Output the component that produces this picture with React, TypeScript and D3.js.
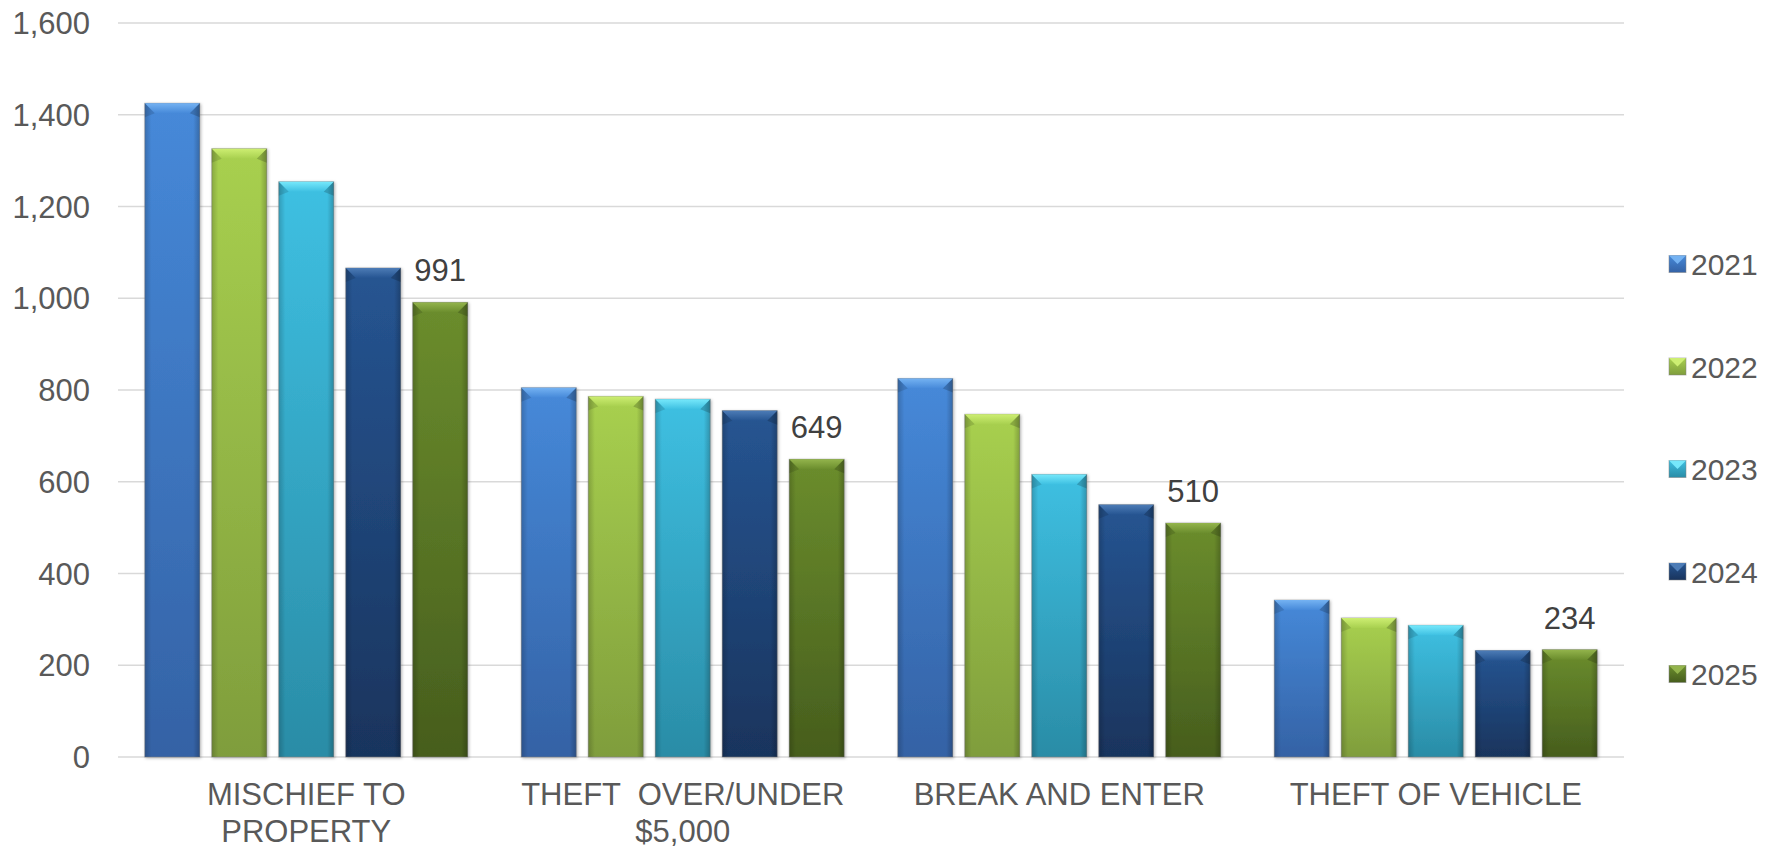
import React from "react";
import * as d3 from "d3";

const categories = ["MISCHIEF TO|PROPERTY", "THEFT  OVER/UNDER|$5,000", "BREAK AND ENTER", "THEFT OF VEHICLE"];
const years = ["2021", "2022", "2023", "2024", "2025"];
const v2021 = [1425, 805, 825, 342];
const v2022 = [1326, 786, 747, 303];
const v2023 = [1254, 780, 616, 287];
const v2024 = [1066, 755, 550, 232];
const v2025 = [991, 649, 510, 234];
const seriesValues = [v2021, v2022, v2023, v2024, v2025];
const yTicks = [0, 200, 400, 600, 800, 1000, 1200, 1400, 1600];

const palette = [
  { top: "#4689d9", bot: "#3462a5", bev: "#74b2f2" },
  { top: "#a8d04f", bot: "#7f9d3c", bev: "#cdee72" },
  { top: "#3ec0e2", bot: "#2a8ca6", bev: "#76e8fb" },
  { top: "#265592", bot: "#19345d", bev: "#4d7cb6" },
  { top: "#6b8d2d", bot: "#465d1d", bev: "#93b44c" },
];

const W = 1783, H = 848;
const font = "'Liberation Sans', Arial, sans-serif";

export default function App() {
  const x0 = d3.scaleBand<string>().domain(categories).range([118, 1624]);
  const x1 = d3.scaleBand<string>().domain(years).range([0, x0.bandwidth()]).paddingInner(0.179).paddingOuter(0.4);
  const y = d3.scaleLinear().domain([0, 1600]).range([757, 23]);
  const bw = x1.bandwidth();
  const bev = 10;

  return (
    <svg width={W} height={H} style={{ position: "absolute", left: 0, top: 0, background: "#fff" }}>
      <defs>
        {palette.map((p, i) => (
          <React.Fragment key={i}>
            <linearGradient id={`body${i}`} x1="0" y1="0" x2="0" y2="1">
              <stop offset="0" stopColor={p.top} />
              <stop offset="1" stopColor={p.bot} />
            </linearGradient>
            <linearGradient id={`bev${i}`} x1="0" y1="0" x2="0" y2="1">
              <stop offset="0" stopColor={p.bev} />
              <stop offset="1" stopColor={p.top} />
            </linearGradient>
          </React.Fragment>
        ))}
        <linearGradient id="edge" x1="0" y1="0" x2="1" y2="0">
          <stop offset="0" stopColor="#000" stopOpacity="0.18" />
          <stop offset="0.12" stopColor="#000" stopOpacity="0" />
          <stop offset="0.88" stopColor="#000" stopOpacity="0" />
          <stop offset="1" stopColor="#000" stopOpacity="0.22" />
        </linearGradient>
        <filter id="shadow" x="-20%" y="-5%" width="140%" height="110%">
          <feDropShadow dx="1" dy="1" stdDeviation="1.5" floodColor="#000" floodOpacity="0.3" />
        </filter>
      </defs>

      {yTicks.map((t) => (
        <g key={t}>
          <line x1={118} x2={1624} y1={y(t)} y2={y(t)} stroke="#d9d9d9" strokeWidth={1.5} />
          <text x={90} y={y(t) + 11} textAnchor="end" fontFamily={font} fontSize={31} fill="#595959">
            {d3.format(",")(t)}
          </text>
        </g>
      ))}

      {categories.map((c, ci) => (
        <g key={c} transform={`translate(${x0(c)},0)`}>
          {years.map((yr, si) => {
            const v = seriesValues[si][ci];
            const bx = x1(yr)!;
            const by = y(v);
            const bh = y(0) - by;
            return (
              <g key={yr}>
                <rect x={bx} y={by} width={bw} height={bh} fill={`url(#body${si})`} filter="url(#shadow)" stroke="#7f7f7f" strokeOpacity={0.5} strokeWidth={1} />
                <rect x={bx} y={by} width={bw} height={bh} fill="url(#edge)" />
                <polygon
                  points={`${bx},${by} ${bx + bw},${by} ${bx + bw - bev},${by + bev} ${bx + bev},${by + bev}`}
                  fill={`url(#bev${si})`}
                />
                <polygon points={`${bx},${by} ${bx + bev},${by + bev} ${bx},${by + bev + 4}`} fill="#000" fillOpacity={0.12} />
                <polygon points={`${bx + bw},${by} ${bx + bw - bev},${by + bev} ${bx + bw},${by + bev + 4}`} fill="#000" fillOpacity={0.18} />
                {si === years.length - 1 && (
                  <text x={bx + bw / 2} y={by - 21} textAnchor="middle" fontFamily={font} fontSize={31} fill="#404040">
                    {v}
                  </text>
                )}
              </g>
            );
          })}
          {c.split("|").map((line, li) => (
            <text key={li} x={x0.bandwidth() / 2} y={805 + li * 37} textAnchor="middle" fontFamily={font} fontSize={31} fill="#595959" style={{ whiteSpace: "pre" }}>
              {line}
            </text>
          ))}
        </g>
      ))}

      {years.map((yr, i) => {
        const cy = 264 + i * 102.5;
        const p = palette[i];
        return (
          <g key={yr}>
            <rect x={1669} y={cy - 8.5} width={17} height={17} fill={`url(#body${i})`} stroke="#7f7f7f" strokeOpacity={0.5} />
            <polygon points={`${1669},${cy - 8.5} ${1686},${cy - 8.5} ${1677.5},${cy}`} fill={p.bev} />
            <text x={1691} y={cy + 11} fontFamily={font} fontSize={30} fill="#595959">
              {yr}
            </text>
          </g>
        );
      })}
    </svg>
  );
}
